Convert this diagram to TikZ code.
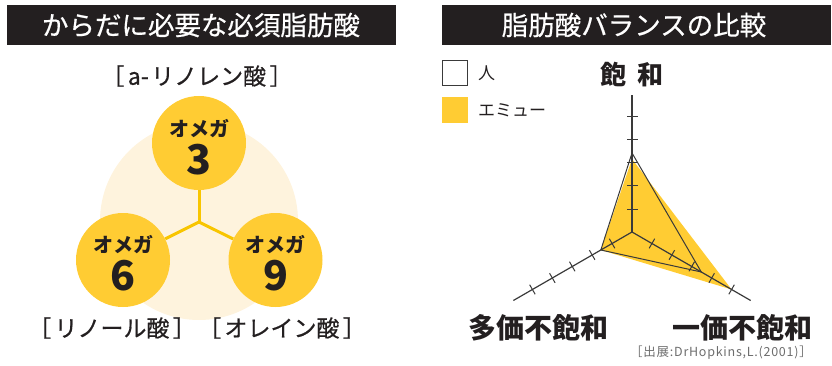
\documentclass[tikz,border=0pt]{standalone}
\usepackage{fontspec}
\setmainfont{Noto Sans CJK JP}
\newfontfamily\jpmed{Noto Sans CJK JP}[FakeBold=0.6]
\newfontfamily\jpsrc{Noto Sans CJK JP}[LetterSpace=6]
\usetikzlibrary{calc}
\definecolor{barc}{HTML}{231F20}
\definecolor{txt}{HTML}{231F20}
\definecolor{yel}{HTML}{FFCC33}
\definecolor{conn}{HTML}{F8C500}
\definecolor{pale}{HTML}{FEF3DD}
\definecolor{axis}{HTML}{3A3A3A}
\definecolor{src}{HTML}{6D6D6D}
\tikzset{
  titletext/.style={text=white, font=\jpmed\fontsize{26.5}{30}\selectfont, inner sep=0pt},
  ycirc/.style={circle, fill=yel, minimum size=94pt, inner sep=0pt},
  connline/.style={draw=conn, line width=3pt},
  omega/.style={text=txt, font=\bfseries\fontsize{20}{22}\selectfont, inner sep=0pt},
  num/.style={text=txt, font=\bfseries\fontsize{41}{44}\selectfont, inner sep=0pt},
  acid/.style={text=txt, font=\jpmed\fontsize{23}{26}\selectfont, inner sep=0pt},
  axisline/.style={draw=axis, line width=1.2pt},
  tick/.style={draw=axis, line width=1pt},
  human/.style={draw=axis, line width=1pt},
  axlabel/.style={text=txt, font=\bfseries\fontsize{28}{30}\selectfont, inner sep=0pt},
  legtext/.style={text=txt, font=\fontsize{17}{20}\selectfont, inner sep=0pt, anchor=west},
}
\newcommand{\lb}{［\hspace{0.15em}}
\newcommand{\rb}{\hspace{0.15em}］}
\begin{document}
\begin{tikzpicture}[x=1pt,y=-1pt]
\useasboundingbox (0,0) rectangle (832,366);
% ---------- left panel ----------
\fill[barc] (7,5) rectangle (396,45);
\node[titletext] (t1) at (201,25) {からだに必要な必須脂肪酸};
\fill[pale] (199,221) circle[radius=99];
\node[ycirc] (c3) at (199,143) {};
\node[ycirc] (c6) at (123,260) {};
\node[ycirc] (c9) at (275.5,260) {};
\coordinate (Y) at (199,222);
\draw[connline] (Y) -- (c3);
\draw[connline] (Y) -- (c6);
\draw[connline] (Y) -- (c9);
\node[omega] (o3) at (199,129) {オメガ};
\node[num] (n3) at (199,160) {3};
\node[omega] (o6) at (123,245) {オメガ};
\node[num] (n6) at (123,276) {6};
\node[omega] (o9) at (275.5,245) {オメガ};
\node[num] (n9) at (275.5,276) {9};
\node[acid] (a3) at (197,76) {\lb a-\hspace{0.1em}リノレン酸\rb};
\node[acid] (a6) at (112,328) {\lb リノール酸\rb};
\node[acid] (a9) at (282,328) {\lb オレイン酸\rb};
% ---------- right panel ----------
\fill[barc] (442,5) rectangle (831,45);
\node[titletext] (t2) at (634,25) {脂肪酸バランスの比較};
\node[draw=axis, line width=1pt, minimum size=25pt, inner sep=0pt] (lg1) at (455,73) {};
\node[fill=yel, minimum size=26pt, inner sep=0pt] (lg2) at (455,110) {};
\node[legtext] (lt1) at (478,73) {人};
\node[legtext] (lt2) at (478,110) {エミュー};
\coordinate (O) at (632,232);
\coordinate (Atop) at ($(O)+(-90:137)$);
\coordinate (Aleft) at ($(O)+(150:137)$);
\coordinate (Aright) at ($(O)+(30:137)$);
\coordinate (Et) at ($(O)+(-90:73)$);
\coordinate (El) at ($(O)+(150:36)$);
\coordinate (Er) at ($(O)+(30:115)$);
\coordinate (Ht) at ($(O)+(-90:79)$);
\coordinate (Hl) at ($(O)+(150:36)$);
\coordinate (Hr) at ($(O)+(30:80)$);
\fill[yel] (Et) -- (Er) -- (El) -- cycle;
\draw[human, line join=miter] (Ht) -- (Hr) -- (Hl) -- cycle;
\draw[axisline] (O) -- (Atop);
\draw[axisline] (O) -- (Aleft);
\draw[axisline] (O) -- (Aright);
\foreach \a in {-90,150,30}{
  \foreach \k in {1,...,5}{
    \draw[tick] ($(O)+(\a:23*\k)+(\a+90:5.5)$) -- ($(O)+(\a:23*\k)+(\a-90:5.5)$);
  }
}
\node[text=txt, font=\bfseries\fontsize{26}{28}\selectfont, inner sep=0pt] (l1) at (632,75) {飽\hspace{0.4em}和};
\node[axlabel] (l2) at (538,328) {多価不飽和};
\node[axlabel] (l3) at (742,328) {一価不飽和};
\node[text=src, font=\jpsrc\fontsize{12.5}{14}\selectfont, inner sep=0pt, anchor=east] (s) at (812,353) {［出展:DrHopkins,L.(2001)］};
\end{tikzpicture}
\end{document}
